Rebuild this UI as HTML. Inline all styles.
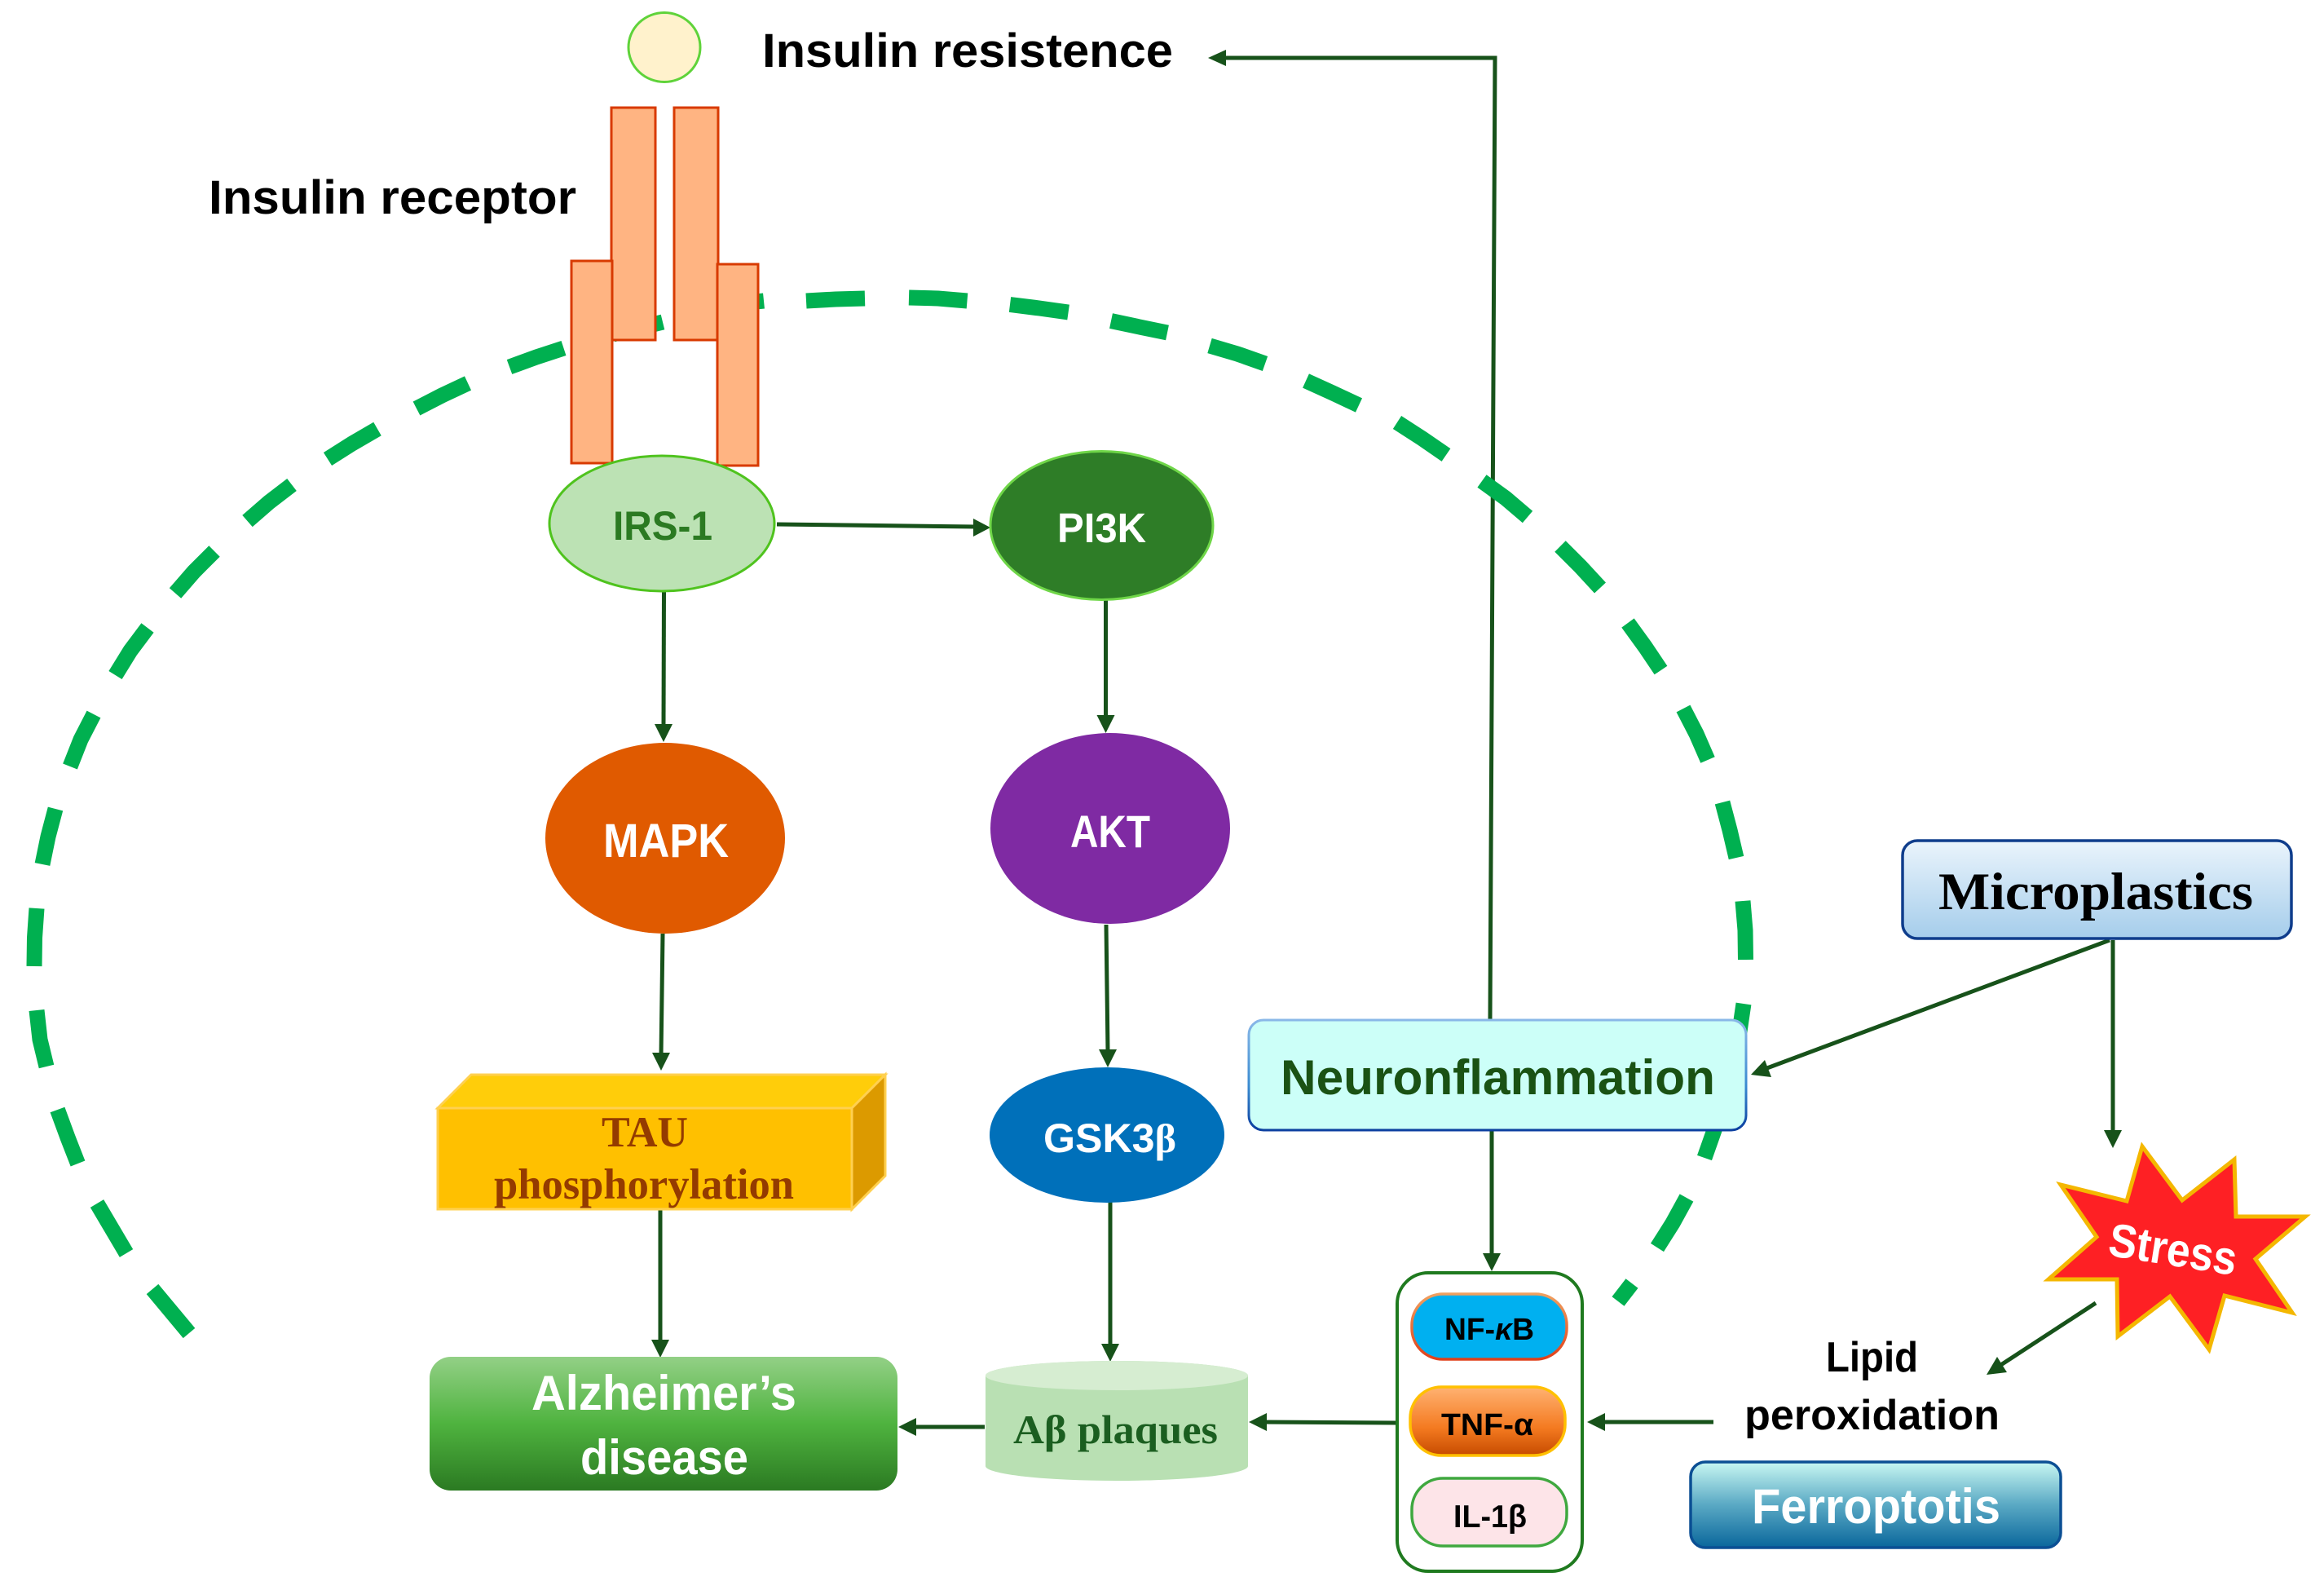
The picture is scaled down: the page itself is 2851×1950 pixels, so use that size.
<!DOCTYPE html>
<html><head><meta charset="utf-8"><style>
html,body{margin:0;padding:0;background:#fff;width:2851px;height:1950px;overflow:hidden}
svg{display:block}
text{font-family:"Liberation Sans",sans-serif;font-weight:bold}
.s{font-family:"Liberation Serif",serif}
.l{stroke:#17521a;stroke-width:5;fill:none}
.h{fill:#17521a}
</style></head><body>
<svg width="2851" height="1950" viewBox="0 0 2851 1950" xmlns="http://www.w3.org/2000/svg">
<defs>
<linearGradient id="alz" x1="0" y1="0" x2="0" y2="1"><stop offset="0" stop-color="#93d086"/><stop offset=".5" stop-color="#4fb33f"/><stop offset="1" stop-color="#2b7a22"/></linearGradient>
<linearGradient id="mic" x1="0" y1="0" x2="0" y2="1"><stop offset="0" stop-color="#eaf4fc"/><stop offset="1" stop-color="#a5cdeb"/></linearGradient>
<linearGradient id="fer" x1="0" y1="0" x2="0" y2="1"><stop offset="0" stop-color="#c8f7f2"/><stop offset=".5" stop-color="#5aa9c4"/><stop offset="1" stop-color="#0a679c"/></linearGradient>
<linearGradient id="tnf" x1="0" y1="0" x2="0" y2="1"><stop offset="0" stop-color="#ffb272"/><stop offset=".6" stop-color="#f47a20"/><stop offset="1" stop-color="#c64b00"/></linearGradient>
<linearGradient id="nstroke" gradientUnits="userSpaceOnUse" x1="0" y1="1251" x2="0" y2="1386"><stop offset="0" stop-color="#8ab8e8"/><stop offset=".6" stop-color="#3a8ad0"/><stop offset="1" stop-color="#0b3fa0"/></linearGradient>
<linearGradient id="nfstroke" gradientUnits="userSpaceOnUse" x1="0" y1="1587" x2="0" y2="1667"><stop offset="0" stop-color="#f0a060"/><stop offset="1" stop-color="#e0401a"/></linearGradient>
</defs>

<!-- insulin resistance connector sits below the dashes -->
<path class="l" d="M1828 1250 L1834 71 L1500 71"/><polygon class="h" points="1482,71 1504,61 1504,81"/>

<!-- dashed membrane -->
<path fill="none" stroke="#00b050" stroke-width="19" d="
M232 1635 L187 1581
M155 1537 L119 1476
M95.500 1427 L83 1395 L70.500 1361
M57 1308 L49 1275 L45 1239
M42 1185 L42.500 1150 L45 1114
M52 1060 L59 1026 L68 992
M86 940 L99 907 L115 876
M141.500 828 L160 798 L181 770
M215 727.500 L238 701 L263 676
M303.500 639 L330 616 L358 594.500
M402 563 L432 544 L463 526
M511 501 L542 485 L574 470
M625 450 L658 438 L691.500 427
M752 410 L813 395
M868 376 L937 369
M989 369 L1025 367 L1061 366
M1115 365 L1151 366 L1186.500 369
M1239 373.500 L1275 378 L1310.600 383
M1363 393.600 L1398 401 L1432 408
M1484 424 L1518 434 L1552 446
M1602 467 L1635 482 L1667 497
M1714 518 L1745 538 L1774 558
M1818 590 L1847 611 L1874 634
M1914 670 L1939 695 L1963 721
M1997 764 L2018 793 L2037.500 822
M2065 869 L2081 900 L2095 932
M2113 984 L2122 1018 L2130 1052
M2138 1105 L2141 1141 L2141.500 1177
M2139 1231 L2134 1265 L2126 1298
M2112 1355 L2103 1386 L2091 1420
M2069 1469 L2052 1500 L2033 1530
M2002 1574 L1985 1596
"/>

<!-- ligand and receptor -->
<ellipse cx="815" cy="58" rx="44" ry="42.5" fill="#fff2cc" stroke="#5fd33a" stroke-width="3"/>
<rect x="750" y="132" width="54" height="285" fill="#ffb482" stroke="#d83a00" stroke-width="3"/>
<rect x="827" y="132" width="54" height="285" fill="#ffb482" stroke="#d83a00" stroke-width="3"/>
<rect x="701" y="320" width="50" height="248" fill="#ffb482" stroke="#d83a00" stroke-width="3"/>
<rect x="880" y="324" width="50" height="247" fill="#ffb482" stroke="#d83a00" stroke-width="3"/>

<!-- connectors -->
<path class="l" d="M953 643 L1198 646"/><polygon class="h" points="1215,647 1194,636 1194,658"/>
<path class="l" d="M814.500 725 L814 890"/><polygon class="h" points="814,910 803,888 825,888"/>
<path class="l" d="M1356.500 736 L1356.500 880"/><polygon class="h" points="1356.500,899 1345.500,877 1367.500,877"/>
<path class="l" d="M813 1145 L811 1295"/><polygon class="h" points="811,1313 800,1291 822,1291"/>
<path class="l" d="M1357 1134 L1359 1290"/><polygon class="h" points="1359,1309 1348,1287 1370,1287"/>
<path class="l" d="M810 1484 L810 1645"/><polygon class="h" points="810,1665 799,1643 821,1643"/>
<path class="l" d="M1362 1474 L1362 1650"/><polygon class="h" points="1362,1670 1351,1648 1373,1648"/>
<path class="l" d="M1208 1750 L1120 1750"/><polygon class="h" points="1102,1750 1124,1739 1124,1761"/>
<path class="l" d="M1713 1745 L1550 1744"/><polygon class="h" points="1532,1744 1554,1733 1554,1755"/>
<path class="l" d="M1830 1386 L1830 1540"/><polygon class="h" points="1830,1559 1819,1537 1841,1537"/>
<path class="l" d="M2102 1744 L1965 1744"/><polygon class="h" points="1947,1744 1969,1733 1969,1755"/>
<path class="l" d="M2592 1153 L2592 1390"/><polygon class="h" points="2592,1408 2581,1386 2603,1386"/>
<path class="l" d="M2588 1153 L2165 1311"/><polygon class="h" points="2148,1318 2165,1300 2173,1321"/>
<path class="l" d="M2571 1598 L2453 1675"/><polygon class="h" points="2437,1686 2450,1664 2462,1683"/>

<!-- nodes -->
<ellipse cx="812" cy="642" rx="138" ry="83" fill="#bce2b4" stroke="#4fc31e" stroke-width="3"/>
<ellipse cx="1351.500" cy="644.500" rx="136.500" ry="91" fill="#2e7d27" stroke="#6fd648" stroke-width="3"/>
<ellipse cx="816" cy="1028" rx="147" ry="117" fill="#e05a00"/>
<ellipse cx="1362" cy="1016" rx="147" ry="117" fill="#7f2aa3"/>
<ellipse cx="1358" cy="1392" rx="144" ry="83" fill="#0070ba"/>

<!-- TAU box -->
<polygon points="537,1359 578,1318 1086,1318 1045,1359" fill="#ffcd0a" stroke="#ffd050" stroke-width="3"/>
<polygon points="1045,1359 1086,1318 1086,1442 1045,1483" fill="#dc9a00" stroke="#ffd050" stroke-width="3"/>
<rect x="537" y="1359" width="508" height="124" fill="#ffc000" stroke="#ffd050" stroke-width="3"/>

<rect x="527" y="1664" width="574" height="164" rx="26" fill="url(#alz)"/>

<!-- cylinder -->
<path d="M1209 1687 A161 18 0 0 1 1531 1687 L1531 1798 A161 18 0 0 1 1209 1798 Z" fill="#b9e0b3"/>
<ellipse cx="1370" cy="1687" rx="161" ry="18" fill="#d6edd1"/>

<rect x="1532" y="1251" width="610" height="135" rx="18" fill="#ccfff8" stroke="url(#nstroke)" stroke-width="3"/>
<rect x="2334" y="1031" width="477" height="120" rx="18" fill="url(#mic)" stroke="#0f3d8c" stroke-width="3.500"/>

<polygon points="2628,1406 2677,1472 2741,1422 2743,1492 2828,1492 2767,1544 2812,1610 2729,1589 2710,1655 2662,1590 2598,1639 2597,1569 2513,1569 2572,1517 2528,1453 2609,1473" fill="#fe2024" stroke="#f4b700" stroke-width="5" stroke-miterlimit="4"/>

<rect x="1714" y="1561" width="227" height="366" rx="38" fill="#fff" stroke="#1f7a1f" stroke-width="4"/>
<rect x="1732" y="1587" width="190" height="80" rx="38" fill="#00b0f0" stroke="url(#nfstroke)" stroke-width="3.500"/>
<rect x="1730" y="1701" width="190" height="84" rx="38" fill="url(#tnf)" stroke="#ffc000" stroke-width="3.500"/>
<rect x="1732" y="1813" width="190" height="83" rx="38" fill="#fde4e8" stroke="#3fa83f" stroke-width="3.500"/>
<rect x="2074" y="1793" width="454" height="105" rx="18" fill="url(#fer)" stroke="#0b4f94" stroke-width="3.500"/>

<!-- labels -->
<text x="935" y="82" font-size="58" fill="#000" textLength="504" lengthAdjust="spacingAndGlyphs">Insulin resistence</text>
<text x="256" y="262" font-size="58" fill="#000" textLength="451" lengthAdjust="spacingAndGlyphs">Insulin receptor</text>
<text x="752" y="662" font-size="50" fill="#2b7a22" textLength="122" lengthAdjust="spacingAndGlyphs">IRS-1</text>
<text x="1297" y="665" font-size="51" fill="#fff" textLength="109" lengthAdjust="spacingAndGlyphs">PI3K</text>
<text x="740" y="1051" font-size="58" fill="#fff" textLength="154" lengthAdjust="spacingAndGlyphs">MAPK</text>
<text x="1313" y="1039" font-size="56" fill="#fff" textLength="98" lengthAdjust="spacingAndGlyphs">AKT</text>
<text x="1280" y="1413" font-size="50" fill="#fff" textLength="163" lengthAdjust="spacingAndGlyphs">GSK3<tspan class="s">β</tspan></text>
<text class="s" x="738" y="1406" font-size="53" fill="#943b00" textLength="106" lengthAdjust="spacingAndGlyphs">TAU</text>
<text class="s" x="606" y="1470" font-size="53" fill="#943b00" textLength="368" lengthAdjust="spacingAndGlyphs">phosphorylation</text>
<text x="652" y="1729" font-size="60" fill="#fff" textLength="325" lengthAdjust="spacingAndGlyphs">Alzheimer’s</text>
<text x="712" y="1808" font-size="60" fill="#fff" textLength="206" lengthAdjust="spacingAndGlyphs">disease</text>
<text class="s" x="1243" y="1770" font-size="50" fill="#1b5e20" textLength="251" lengthAdjust="spacingAndGlyphs">Aβ plaques</text>
<text x="1571" y="1342" font-size="60" fill="#1a5214" textLength="533" lengthAdjust="spacingAndGlyphs">Neuronflammation</text>
<text class="s" x="2378" y="1115" font-size="65" fill="#000" textLength="386" lengthAdjust="spacingAndGlyphs">Microplastics</text>
<text x="2587" y="1552" font-size="58" fill="#fff" textLength="158" lengthAdjust="spacingAndGlyphs" transform="rotate(9 2666 1531)">Stress</text>
<text x="1772" y="1643" font-size="38" fill="#000" textLength="110" lengthAdjust="spacingAndGlyphs">NF-<tspan font-style="italic">κ</tspan>B</text>
<text x="1768" y="1760" font-size="38" fill="#000" textLength="113" lengthAdjust="spacingAndGlyphs">TNF-α</text>
<text x="1783" y="1873" font-size="39" fill="#000" textLength="90" lengthAdjust="spacingAndGlyphs">IL-1β</text>
<text x="2240" y="1682" font-size="52" fill="#000" textLength="113" lengthAdjust="spacingAndGlyphs">Lipid</text>
<text x="2140" y="1753" font-size="52" fill="#000" textLength="313" lengthAdjust="spacingAndGlyphs">peroxidation</text>
<text x="2149" y="1868" font-size="60" fill="#fff" textLength="305" lengthAdjust="spacingAndGlyphs">Ferroptotis</text>
</svg>
</body></html>
